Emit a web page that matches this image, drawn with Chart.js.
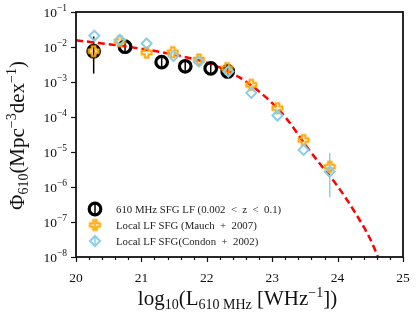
<!DOCTYPE html>
<html>
<head>
<meta charset="utf-8">
<script src="https://cdn.jsdelivr.net/npm/chart.js@4.4.1/dist/chart.umd.min.js"></script>
<style>
  html, body { margin: 0; padding: 0; background: #fff; }
</style>
</head>
<body>
<canvas id="lfChart" width="416" height="318"></canvas>
<script>
// 610 MHz SFG LF (0.002 < z < 0.1)
const sfgX  = [20.27, 20.75, 21.31, 21.67, 22.06, 22.32];
const sfgY  = [7.6e-3, 1.02e-2, 3.7e-3, 2.8e-3, 2.45e-3, 2.0e-3];
const sfgLo = [1.74e-3, 7.6e-3, 2.75e-3, 2.1e-3, 1.8e-3, 1.5e-3];
const sfgHi = [2.0e-2, 1.37e-2, 5.0e-3, 3.8e-3, 3.3e-3, 2.7e-3];

// Local LF SFG (Mauch + 2007)
const mauchX  = [20.27, 20.67, 21.08, 21.48, 21.88, 22.31, 22.68, 23.08, 23.48, 23.88];
const mauchY  = [7.6e-3, 1.47e-2, 6.9e-3, 7.1e-3, 4.4e-3, 2.5e-3, 8.3e-4, 1.8e-4, 2.2e-5, 3.8e-6];
const mauchLo = [4.0e-3, null, null, null, null, null, null, null, null, null];
const mauchHi = [1.2e-2, null, null, null, null, null, null, null, null, null];

// Local LF SFG (Condon + 2002)
const condonX  = [20.28, 20.67, 21.08, 21.49, 21.88, 22.33, 22.68, 23.08, 23.48, 23.88];
const condonY  = [2.1e-2, 1.6e-2, 1.26e-2, 5.5e-3, 3.8e-3, 2.0e-3, 4.9e-4, 1.1e-4, 1.15e-5, 2.75e-6];
const condonLo = [null, null, null, null, null, null, null, null, null, 5.1e-7];
const condonHi = [null, null, null, null, null, null, null, null, null, 9.3e-6];

// fitted curve (red dashed)
const fitX = [20.0, 20.5, 21.0, 21.5, 22.0, 22.5, 23.0, 23.25, 23.5, 23.75, 24.0, 24.25, 24.5, 24.75];
const fitY = [1.55e-2, 1.2e-2, 8.9e-3, 6.0e-3, 3.55e-3, 1.35e-3, 2.5e-4, 7.6e-5, 1.66e-5, 4.1e-6, 1.05e-6, 2.1e-7, 3.2e-8, 2.5e-9];

const xTicks = [20, 21, 22, 23, 24, 25];
const yDecades = [-8, -7, -6, -5, -4, -3, -2, -1];

const SERIF = '"Liberation Serif", "DejaVu Serif", serif';
const ORANGE = '#FFA500';
const SKY = '#87CEEB';

function pts(xs, ys) {
    return xs.map((x, i) => ({ x: x, y: ys[i] }));
}

// open "P" marker (plus outline)
function plusMarker(color) {
    const c = document.createElement('canvas');
    c.width = 15; c.height = 15;
    const g = c.getContext('2d');
    const m = 7.5, h = 5.0, t = 1.8;
    g.beginPath();
    g.moveTo(m - t, m - h); g.lineTo(m + t, m - h); g.lineTo(m + t, m - t);
    g.lineTo(m + h, m - t); g.lineTo(m + h, m + t); g.lineTo(m + t, m + t);
    g.lineTo(m + t, m + h); g.lineTo(m - t, m + h); g.lineTo(m - t, m + t);
    g.lineTo(m - h, m + t); g.lineTo(m - h, m - t); g.lineTo(m - t, m - t);
    g.closePath();
    g.strokeStyle = color;
    g.lineWidth = 2;
    g.stroke();
    return c;
}
const plusImg = plusMarker(ORANGE);

// write text made of pieces [text, size, dy]
function drawPieces(ctx, pieces, x, y, align) {
    let total = 0;
    pieces.forEach(p => { ctx.font = p[1] + 'px ' + SERIF; total += ctx.measureText(p[0]).width; });
    let cx = x;
    if (align === 'center') cx = x - total / 2;
    if (align === 'right') cx = x - total;
    ctx.textAlign = 'left';
    ctx.textBaseline = 'alphabetic';
    pieces.forEach(p => {
        ctx.font = p[1] + 'px ' + SERIF;
        ctx.fillText(p[0], cx, y + p[2]);
        cx += ctx.measureText(p[0]).width;
    });
}

const errorBars = {
    id: 'errorBars',
    beforeDatasetsDraw(chart) {
        const ctx = chart.ctx;
        const ys = chart.scales.y;
        ctx.save();
        chart.data.datasets.forEach((ds, di) => {
            if (!ds.errLo) return;
            const meta = chart.getDatasetMeta(di);
            ctx.strokeStyle = ds.errColor;
            ctx.lineWidth = 1.5;
            meta.data.forEach((pt, i) => {
                if (ds.errLo[i] == null) return;
                ctx.beginPath();
                ctx.moveTo(pt.x, ys.getPixelForValue(ds.errLo[i]));
                ctx.lineTo(pt.x, ys.getPixelForValue(ds.errHi[i]));
                ctx.stroke();
            });
        });
        ctx.restore();
    }
};

const frameAndText = {
    id: 'frameAndText',
    afterDraw(chart) {
        const ctx = chart.ctx;
        const a = chart.chartArea;
        const xs = chart.scales.x, ys = chart.scales.y;
        ctx.save();
        ctx.fillStyle = '#111';
        ctx.strokeStyle = '#111';

        // ticks
        ctx.lineWidth = 1.2;
        for (let v = 20; v <= 25.001; v += 0.2) {
            const px = Math.round(xs.getPixelForValue(v)) + 0.5;
            const major = Math.abs(v - Math.round(v)) < 1e-6;
            ctx.beginPath();
            ctx.moveTo(px, a.bottom);
            ctx.lineTo(px, a.bottom + (major ? 5 : 3));
            ctx.stroke();
        }
        yDecades.forEach(k => {
            const py = Math.round(ys.getPixelForValue(Math.pow(10, k))) + 0.5;
            ctx.beginPath();
            ctx.moveTo(a.left, py);
            ctx.lineTo(a.left - 5, py);
            ctx.stroke();
        });

        // frame
        ctx.lineWidth = 1.8;
        ctx.strokeRect(a.left, a.top, a.right - a.left, a.bottom - a.top);

        // tick labels
        xTicks.forEach(v => {
            drawPieces(ctx, [[String(v), 13.5, 0]], xs.getPixelForValue(v), a.bottom + 25, 'center');
        });
        yDecades.forEach(k => {
            const py = ys.getPixelForValue(Math.pow(10, k));
            drawPieces(ctx, [['10', 13.5, 0], ['\u2212' + Math.abs(k), 9.5, -6]], a.left - 9, py + 4.5, 'right');
        });

        // x title
        drawPieces(ctx, [
            ['log', 21, 0], ['10', 14, 4], ['(L', 21, 0], ['610 MHz', 14, 4],
            [' [WHz', 21, 0], ['\u22121', 14, -8.5], ['])', 21, 0]
        ], (a.left + a.right) / 2 - 2, 305, 'center');

        // y title
        ctx.save();
        ctx.translate(24, (a.top + a.bottom) / 2 + 1);
        ctx.rotate(-Math.PI / 2);
        drawPieces(ctx, [
            ['\u03A6', 21, 0], ['610', 14, 4], ['(Mpc', 21, 0], ['\u22123', 14, -8.5],
            ['dex', 21, 0], ['\u22121', 14, -8.5], [')', 21, 0]
        ], 0, 0, 'center');
        ctx.restore();

        // legend
        const lx = a.left + 19, rows = [a.top + 197, a.top + 213, a.top + 229];
        ctx.lineWidth = 1.5;
        // black circle
        ctx.strokeStyle = '#000';
        ctx.beginPath(); ctx.moveTo(lx, rows[0] - 5); ctx.lineTo(lx, rows[0] + 5); ctx.stroke();
        ctx.lineWidth = 3.2;
        ctx.beginPath(); ctx.arc(lx, rows[0], 5.8, 0, Math.PI * 2); ctx.stroke();
        // orange plus
        ctx.lineWidth = 1.5;
        ctx.strokeStyle = ORANGE;
        ctx.beginPath(); ctx.moveTo(lx, rows[1] - 4); ctx.lineTo(lx, rows[1] + 4); ctx.stroke();
        ctx.drawImage(plusImg, lx - 7.5, rows[1] - 7.5);
        // blue diamond
        ctx.strokeStyle = SKY;
        ctx.beginPath(); ctx.moveTo(lx, rows[2] - 4); ctx.lineTo(lx, rows[2] + 4); ctx.stroke();
        ctx.lineWidth = 2;
        ctx.beginPath();
        ctx.moveTo(lx - 5, rows[2]); ctx.lineTo(lx, rows[2] - 5);
        ctx.lineTo(lx + 5, rows[2]); ctx.lineTo(lx, rows[2] + 5);
        ctx.closePath(); ctx.stroke();

        ctx.fillStyle = '#222';
        const labels = ['610 MHz SFG LF (0.002  <  z  <  0.1)', 'Local LF SFG (Mauch  +  2007)', 'Local LF SFG(Condon  +  2002)'];
        labels.forEach((t, i) => drawPieces(ctx, [[t, 10.8, 0]], lx + 21, rows[i] + 3.5, 'left'));
        ctx.restore();
    }
};

new Chart(document.getElementById('lfChart'), {
    type: 'scatter',
    data: {
        datasets: [
            {
                label: 'Local LF SFG(Condon + 2002)',
                data: pts(condonX, condonY),
                errLo: condonLo, errHi: condonHi, errColor: SKY,
                pointStyle: 'rectRot', pointRadius: 5,
                pointBorderColor: SKY, pointBackgroundColor: 'rgba(0,0,0,0)', pointBorderWidth: 2,
                order: 0
            },
            {
                label: 'Local LF SFG (Mauch + 2007)',
                data: pts(mauchX, mauchY),
                errLo: mauchLo, errHi: mauchHi, errColor: ORANGE,
                pointStyle: plusImg, pointRadius: 7.5,
                pointBorderColor: ORANGE, pointBackgroundColor: 'rgba(0,0,0,0)',
                order: 1
            },
            {
                label: '610 MHz SFG LF (0.002 < z < 0.1)',
                data: pts(sfgX, sfgY),
                errLo: sfgLo, errHi: sfgHi, errColor: '#000',
                pointStyle: 'circle', pointRadius: 5.8,
                pointBorderColor: '#000', pointBackgroundColor: 'rgba(0,0,0,0)', pointBorderWidth: 3.2,
                order: 2
            },
            {
                type: 'line',
                label: 'fit',
                data: pts(fitX, fitY),
                borderColor: '#FF0000', borderWidth: 2.5, borderDash: [7, 4],
                pointRadius: 0, fill: false, cubicInterpolationMode: 'monotone',
                order: 3
            }
        ]
    },
    options: {
        responsive: false,
        animation: false,
        events: [],
        layout: { padding: { top: 12, right: 13, left: 0, bottom: 0 } },
        plugins: { legend: { display: false }, tooltip: { enabled: false } },
        scales: {
            x: {
                type: 'linear', min: 20, max: 25,
                grid: { display: false }, border: { display: false },
                ticks: { display: false },
                afterFit(scale) { scale.height = 61; }
            },
            y: {
                type: 'logarithmic', min: 1e-8, max: 1e-1,
                grid: { display: false }, border: { display: false },
                ticks: { display: false },
                afterFit(scale) { scale.width = 76; }
            }
        }
    },
    plugins: [errorBars, frameAndText]
});
</script>
</body>
</html>
